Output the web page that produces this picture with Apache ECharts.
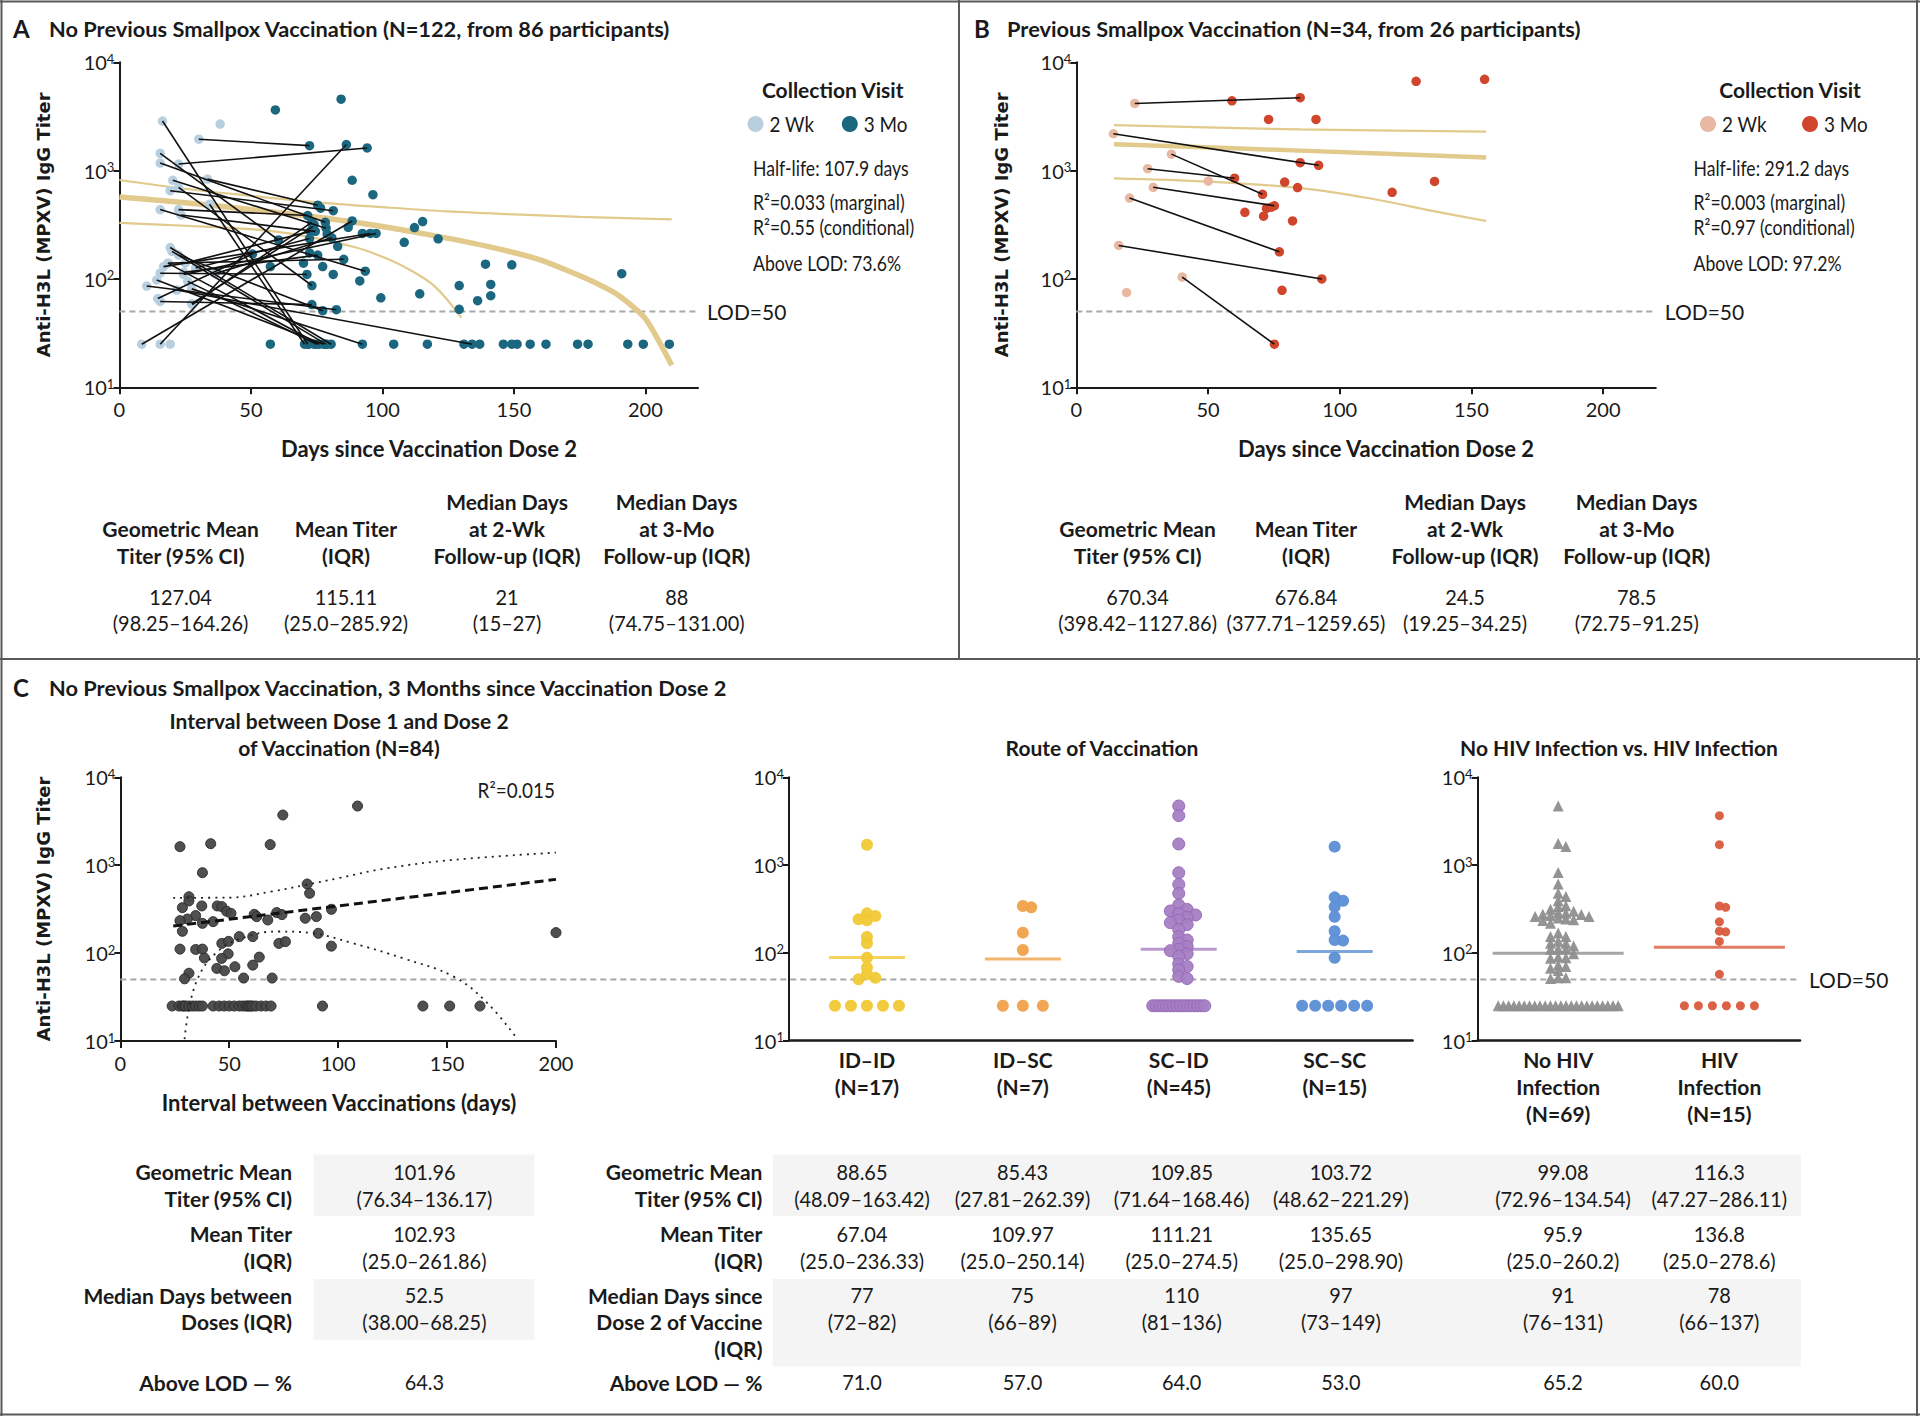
<!DOCTYPE html>
<html>
<head>
<meta charset="utf-8">
<style>
html, body { margin: 0; background: #fff; }
#chart { width: 1920px; height: 1416px; }
</style>
</head>
<body>
<div id="chart"></div>
<script src="https://cdn.jsdelivr.net/npm/echarts@6/dist/echarts.min.js"></script>
<script>
// ---- panel A: no previous smallpox vaccination, [day, titer]
const aPair2wk = [[16.4,2870],[30.2,1950],[22.5,1150],[15.5,1445],[15.5,1175],[20.3,815],[33.5,835],[19.3,653],[22.5,437],[15.5,437],[23.4,390],[34.3,490],[8.5,25],[27.5,59],[15.5,25],[19.3,195],[22.5,166],[18.4,140],[16.8,130],[14.2,98],[10.4,86],[15.5,62],[24.4,110],[21.8,79],[27.5,81],[24.5,115],[18.6,140],[29,126],[36.4,112],[15.5,113],[22.5,700],[20,180],[26,95],[14.6,66],[25,140],[27.7,58]];
const aPair3mo = [[71.6,25],[72.3,1700],[94.2,1620],[60.5,229],[78.3,333],[78.6,294],[75.4,480],[81.3,427],[71.6,385],[93.5,118],[74.5,275],[70.4,25],[88.5,343],[73.6,304],[86.3,1740],[80.5,25],[77.3,51],[76,25],[95.4,263],[77.7,25],[82.5,52],[73.2,58],[97.6,263],[134.1,25],[92.4,25],[75.4,166],[85.3,152],[72.3,236],[80.8,240],[71.3,110],[73.2,87],[78.5,25],[75,25],[50.6,170],[72.6,275],[73.1,333]];
const aOnly2wk = [[38.3,2690],[19.3,25]];
const aOnly3mo = [[59.3,3630],[84.3,4570],[88.5,815],[96.4,600],[92.4,263],[108.3,218],[72.3,174],[77.3,130],[57.4,130],[81.3,110],[91.4,96],[99.4,67],[57.4,25],[104.3,25],[112.2,298],[115.3,339],[121.2,235],[139.2,137],[149.2,135],[191,112],[114.2,73],[129.2,87],[141.2,89],[141.2,70],[136.2,63],[129.2,52.5],[117.1,25],[131,25],[137,25],[146,25],[149.2,25],[151.2,25],[156.2,25],[162.2,25],[174.2,25],[178.2,25],[193.3,25],[199.2,25],[209.1,25],[74,320],[76.5,450],[79,260],[83,200],[70,140],[87,300],[72,25],[74,25],[79,25]];
const aFit = [[0,570],[20,520],[40,465],[60,410],[80,360],[100,305],[120,250],[140,200],[160,150],[180,95],[190,70],[200,43],[210,16]];
const aFitHi = [[0,820],[25,680],[50,585],[75,510],[100,460],[125,420],[150,395],[175,375],[210,355]];
const aFitLo = [[0,330],[25,310],[50,288],[70,250],[90,195],[100,160],[110,123],[120,85],[130,44]];

// ---- panel B: previous smallpox vaccination
const bPair2wk = [[22.2,4170],[14.1,2190],[36.1,1420],[27.1,1042],[29.2,702],[20.2,558],[16.1,204],[40.2,104]];
const bPair3mo = [[85,4710],[92,1120],[70.7,605],[60.1,851],[75.2,474],[77.1,178],[93.2,100],[75.2,25]];
const bOnly2wk = [[50.1,802],[19.1,75]];
const bOnly3mo = [[59.1,4415],[129,6670],[155,6970],[73,2970],[91,2970],[85,1183],[79.1,785],[84,697],[136,794],[119.9,630],[72.2,449],[74,460],[64,412],[71.1,380],[82.1,343],[78.1,78.5]];
const bFit = [[14.3,1750],[85,1530],[155.6,1325]];
const bFitHi = [[14.3,2630],[85,2400],[155.6,2290]];
const bFitLo = [[14.3,849],[50.4,791],[85.9,687],[111.3,556],[136.6,418],[155.6,343]];

// ---- panel C: interval between doses, [days, titer]
const cPoints = [[27.4,1625],[41.5,1757],[68.8,1715],[74.6,3724],[108.9,4710],[37.7,822],[85.8,611],[86.9,479],[31.5,438],[31.5,392],[28.5,329],[37.4,344],[44.5,344],[46.6,338],[48.8,299],[50.8,283],[34.6,267],[30.8,244],[27.4,234],[37.7,218],[42.6,228],[61.5,276],[62.6,260],[67.7,238],[71.8,289],[74.2,274],[84.9,249],[90,260],[96.9,315],[28.5,177],[90.9,168],[200,171],[54.6,154],[60.8,154],[46.6,129],[49.7,136],[72.8,129],[75.8,135],[96.9,120],[27.4,111],[34.6,110],[37.7,111],[38.6,88],[49.5,98],[46.5,87],[63.8,90],[44.3,67],[47.8,63],[52.6,70],[60.8,73],[31.5,59],[29.5,51],[56.6,52],[69.7,52],
  [23.8,25],[26.9,25],[28.5,25],[29.2,25],[30,25],[31.5,25],[33.1,25],[34.6,25],[36.2,25],[37.7,25],[42.6,25],[45.4,25],[47.7,25],[50,25],[52.3,25],[54.6,25],[56.2,25],[57.7,25],[58.5,25],[59.2,25],[60,25],[60.8,25],[62.3,25],[64.6,25],[66.9,25],[69.2,25],[92.8,25],[138.9,25],[151.2,25],[165.1,25]];
const cFit = [[24.3,203],[200,690]];
const cFitHi = [[24.3,425],[50,428],[70,505],[85,596],[100,711],[122,920],[153,1150],[200,1390]];
const cFitLo = [[29.5,10.5],[34.6,45],[45.4,108],[60.8,161],[73,176],[88.5,168],[107,129],[130,87],[153,54],[168.5,27],[182.3,10.5]];

// route of vaccination
const routeCats = ['ID–ID\n(N=17)', 'ID–SC\n(N=7)', 'SC–ID\n(N=45)', 'SC–SC\n(N=15)'];
const routeIdId = [1706,282,263,241,235,152,129,88,68,57,52,50,25,25,25,25,25];
const routeIdSc = [342,330,170,108,25,25,25];
const routeScId = [4710,3660,1740,819,603,476,351,313,300,281,270,255,237,221,210,185,153,140,129,118,110,106,98,91,75,70,64,54,51,25,25,25,25,25,25,25,25,25,25,25,25,25,25,25,25];
const routeScSc = [1622,429,393,336,258,177,140,138,88,25,25,25,25,25,25];
// HIV status
const hivCats = ['No HIV\nInfection\n(N=69)', 'HIV\nInfection\n(N=15)'];
const hivNo = [4710,1757,1625,822,611,479,438,392,344,338,315,299,289,283,276,274,267,260,260,249,244,238,234,218,168,154,154,136,129,129,120,111,111,110,98,90,88,87,73,70,67,63,52,52,51,25,25,25,25,25,25,25,25,25,25,25,25,25,25,25,25,25,25,25,25,25,25,25,25];
const hivYes = [3660,1710,342,330,226,177,174,135,57,25,25,25,25,25,25];

// ---- tables
const tableAHead = [['Geometric Mean','Titer (95% CI)'],['Mean Titer','(IQR)'],['Median Days','at 2-Wk','Follow-up (IQR)'],['Median Days','at 3-Mo','Follow-up (IQR)']];
const tableAVals = [['127.04','(98.25–164.26)'],['115.11','(25.0–285.92)'],['21','(15–27)'],['88','(74.75–131.00)']];
const tableBVals = [['670.34','(398.42–1127.86)'],['676.84','(377.71–1259.65)'],['24.5','(19.25–34.25)'],['78.5','(72.75–91.25)']];
const cLeftLabels = [['Geometric Mean','Titer (95% CI)'],['Mean Titer','(IQR)'],['Median Days between','Doses (IQR)'],['Above LOD — %']];
const cRightLabels = [['Geometric Mean','Titer (95% CI)'],['Mean Titer','(IQR)'],['Median Days since','Dose 2 of Vaccine','(IQR)'],['Above LOD — %']];
const intervalStats = ['101.96','(76.34–136.17)','102.93','(25.0–261.86)','52.5','(38.00–68.25)','64.3'];
const routeStats = [
  ['88.65','(48.09–163.42)','67.04','(25.0–236.33)','77','(72–82)','71.0'],
  ['85.43','(27.81–262.39)','109.97','(25.0–250.14)','75','(66–89)','57.0'],
  ['109.85','(71.64–168.46)','111.21','(25.0–274.5)','110','(81–136)','64.0'],
  ['103.72','(48.62–221.29)','135.65','(25.0–298.90)','97','(73–149)','53.0']];
const hivStats = [
  ['99.08','(72.96–134.54)','95.9','(25.0–260.2)','91','(76–131)','65.2'],
  ['116.3','(47.27–286.11)','136.8','(25.0–278.6)','78','(66–137)','60.0']];

const NAR = 'Lato,"Liberation Sans",sans-serif';
const WIDE = '"DejaVu Sans",sans-serif';
const INK = '#1a1a1a';
const GOLD = '#e2c98c';
const LOD_GRAY = '#a8a8a8';

const grids = [
  {left: 119.4, top: 62.3, width: 578.6, height: 325},
  {left: 1076.3, top: 62.3, width: 579.5, height: 325},
  {left: 120.3, top: 777.3, width: 435.7, height: 263.7},
  {left: 789, top: 777.3, width: 623.6, height: 263.4},
  {left: 1477.6, top: 777.3, width: 322.4, height: 263.4},
  // overlay spanning panel C, only carries the shared LOD line
  {left: 120.3, top: 777.3, width: 1679.7, height: 263.7}
].map(g => Object.assign({outerBoundsMode: 'none', containLabel: false}, g));

function logAxis(gi, hidden) {
  return {
    type: 'log', logBase: 10, gridIndex: gi, min: 10, max: 10000, show: !hidden,
    axisLine: {show: true, lineStyle: {color: INK, width: 2}},
    axisTick: {show: true, length: 6, lineStyle: {color: INK, width: 2}},
    minorTick: {show: false}, splitLine: {show: false},
    axisLabel: {
      margin: 5,
      formatter: v => '{b|10}{s|' + Math.round(Math.log10(v)) + '}',
      rich: {
        b: {fontSize: 20, fontFamily: NAR, color: INK},
        s: {fontSize: 13, fontFamily: NAR, color: INK, verticalAlign: 'top'}
      }
    }
  };
}
function dayAxis(gi, max, ticks) {
  return {
    type: 'value', gridIndex: gi, min: 0, max: max, interval: 50,
    axisLine: {show: true, onZero: false, lineStyle: {color: INK, width: 2}},
    axisTick: {show: true, length: 7, customValues: ticks, lineStyle: {color: INK, width: 2}},
    splitLine: {show: false},
    axisLabel: {margin: 12, customValues: ticks, fontSize: 20, fontFamily: NAR, color: INK}
  };
}
function catAxis(gi, cats) {
  return {
    type: 'category', gridIndex: gi, data: cats,
    axisLine: {show: true, lineStyle: {color: INK, width: 2.5}},
    axisTick: {show: false},
    axisLabel: {margin: 5, interval: 0, fontSize: 21, lineHeight: 27, fontWeight: 'bold', fontFamily: NAR, color: INK}
  };
}

function pairLines(gi, from, to) {
  return {type: 'lines', coordinateSystem: 'cartesian2d', xAxisIndex: gi, yAxisIndex: gi, z: 4, silent: true,
    lineStyle: {color: '#111', width: 1.6, opacity: 1},
    data: from.map((p, i) => ({coords: [p, to[i]]}))};
}
function dots(gi, data, color, size) {
  return {type: 'scatter', xAxisIndex: gi, yAxisIndex: gi, z: 3, symbolSize: size || 9.5, silent: true,
    itemStyle: {color: color, opacity: 1}, data: data};
}
function curve(gi, data, width, extra) {
  return Object.assign({type: 'line', xAxisIndex: gi, yAxisIndex: gi, z: 2, showSymbol: false, silent: true,
    smooth: 0.35, lineStyle: {color: GOLD, width: width}, data: data}, extra || {});
}
function lodLine(gi, xEnd) {
  return {type: 'line', xAxisIndex: gi, yAxisIndex: gi, z: 1, showSymbol: false, silent: true,
    lineStyle: {color: LOD_GRAY, width: 2, type: [6, 4]},
    endLabel: {show: true, formatter: 'LOD=50', distance: 9, color: INK, fontSize: 21, fontFamily: NAR},
    data: [[0, 50], [xEnd, 50]]};
}

// beeswarm offsets (pixels) for dot columns
function swarm(vals, d, rowGap, maxHalf, pxDec) {
  const off = vals.map(() => 0);
  const counts = {};
  vals.forEach(v => { counts[v] = (counts[v] || 0) + 1; });
  const seen = {};
  const placed = [];
  vals.map((v, i) => i).sort((a, b) => vals[b] - vals[a]).forEach(i => {
    const v = vals[i];
    const y = Math.log10(v) * pxDec;
    if (counts[v] > 2) {
      seen[v] = seen[v] === undefined ? 0 : seen[v] + 1;
      const gap = Math.min(rowGap, 2 * maxHalf / (counts[v] - 1));
      off[i] = (seen[v] - (counts[v] - 1) / 2) * gap;
    } else {
      for (let s = 0; s < 80; s++) {
        const dx = (s === 0 ? 0 : (s % 2 ? 1 : -1) * Math.ceil(s / 2)) * d * 0.35;
        if (placed.every(p => Math.abs(p.y - y) >= d * 0.5 || Math.abs(p.dx - dx) >= d * 0.5)) { off[i] = dx; break; }
      }
    }
    placed.push({y: y, dx: off[i]});
  });
  return off;
}
function column(gi, cat, vals, color, size, symbol, rowGap, maxHalf, border) {
  const off = swarm(vals, size, rowGap, maxHalf, 87.8);
  return {type: 'scatter', xAxisIndex: gi, yAxisIndex: gi, z: 3, silent: true, symbol: symbol || 'circle', symbolSize: size,
    itemStyle: {color: color, borderColor: border || color, borderWidth: border ? 1 : 0, opacity: 0.95},
    data: vals.map((v, i) => ({value: [cat, v], symbolOffset: [off[i], 0]}))};
}
function meanBars(gi, stats, colors, w) {
  return {type: 'scatter', xAxisIndex: gi, yAxisIndex: gi, z: 2, silent: true, symbol: 'rect', symbolSize: [w, 3],
    data: stats.map((s, i) => ({value: [i, parseFloat(s[0])], itemStyle: {color: colors[i]}}))};
}

const routeColors = ['#f1c935', '#f0a14a', '#a77fc4', '#5b8ed6'];
const hivColors = ['#8e8e8e', '#d95a3c'];

const series = [
  // A
  curve(0, aFitHi, 2.2), curve(0, aFitLo, 2.2), curve(0, aFit, 5.5, {smooth: 0.2}), lodLine(0, 220),
  dots(0, aPair2wk.concat(aOnly2wk), '#b8cfdf'), dots(0, aPair3mo.concat(aOnly3mo), '#1c6780'),
  pairLines(0, aPair2wk, aPair3mo),
  // B
  curve(1, bFitHi, 2.2), curve(1, bFitLo, 2.2), curve(1, bFit, 4.5), lodLine(1, 220),
  dots(1, bPair2wk.concat(bOnly2wk), '#e8b8a2'), dots(1, bPair3mo.concat(bOnly3mo), '#d0462c'),
  pairLines(1, bPair2wk, bPair3mo),
  // C interval
  {type: 'scatter', xAxisIndex: 2, yAxisIndex: 2, z: 3, silent: true, symbolSize: 10,
    itemStyle: {color: '#474747', borderColor: '#2b2b2b', borderWidth: 1, opacity: 0.95}, data: cPoints},
  {type: 'line', xAxisIndex: 2, yAxisIndex: 2, z: 4, showSymbol: false, silent: true,
    lineStyle: {color: '#111', width: 3, type: [9, 5]}, data: cFit},
  {type: 'line', xAxisIndex: 2, yAxisIndex: 2, z: 4, showSymbol: false, silent: true, smooth: 0.4,
    lineStyle: {color: '#222', width: 1.8, type: [2, 5]}, data: cFitHi},
  {type: 'line', xAxisIndex: 2, yAxisIndex: 2, z: 4, showSymbol: false, silent: true, smooth: 0.4,
    lineStyle: {color: '#222', width: 1.8, type: [2, 5]}, data: cFitLo},
  lodLine(5, 1),
  // C route
  meanBars(3, routeStats, routeColors, 76),
  column(3, 0, routeIdId, routeColors[0], 12, 'circle', 16, 38),
  column(3, 1, routeIdSc, routeColors[1], 12, 'circle', 20, 38),
  column(3, 2, routeScId, routeColors[2], 12, 'circle', 12, 26, '#9568b6'),
  column(3, 3, routeScSc, routeColors[3], 12, 'circle', 13, 38),
  // C HIV
  meanBars(4, hivStats, hivColors, 131),
  column(4, 0, hivNo, hivColors[0], 11, 'triangle', 10, 60),
  column(4, 1, hivYes, hivColors[1], 9, 'circle', 14, 38)
];

// ---- text and frame
function tx(x, y, text, o) {
  o = o || {};
  const font = (o.weight || 'normal') + ' ' + (o.size || 21) + 'px ' + (o.family || NAR);
  return {type: 'text', x: x, y: y, rotation: o.rot || 0, scaleX: o.sx || 1, z: 20, silent: true,
    style: {text: text, fill: o.color || INK, font: font,
      textAlign: o.align || 'left', align: o.align || 'left',
      textVerticalAlign: 'middle', verticalAlign: 'middle'}};
}
function rect(x, y, w, h, fill) {
  return {type: 'rect', z: 0, silent: true, shape: {x: x, y: y, width: w, height: h}, style: {fill: fill}};
}
function hline(x1, x2, y) {
  return {type: 'line', z: 30, silent: true, shape: {x1: x1, y1: y, x2: x2, y2: y}, style: {stroke: '#5a5a5a', lineWidth: 2}};
}
function vline(x, y1, y2) {
  return {type: 'line', z: 30, silent: true, shape: {x1: x, y1: y1, x2: x, y2: y2}, style: {stroke: '#5a5a5a', lineWidth: 2}};
}
function dot(cx, cy, fill) {
  return {type: 'circle', z: 20, silent: true, shape: {cx: cx, cy: cy, r: 8}, style: {fill: fill}};
}

const g = [];
// frame
g.push(hline(0, 1920, 1.5), hline(0, 1920, 1414.5), vline(1.5, 0, 1416), vline(1917, 0, 1416),
  vline(959, 0, 659), hline(0, 1920, 659));

// panel titles
const TS = 21.8;
g.push(tx(13, 28, 'A', {weight: 'bold', size: 24}), tx(49, 28, 'No Previous Smallpox Vaccination (N=122, from 86 participants)', {weight: 'bold', size: TS}));
g.push(tx(974, 28, 'B', {weight: 'bold', size: 24}), tx(1007, 28, 'Previous Smallpox Vaccination (N=34, from 26 participants)', {weight: 'bold', size: TS}));
g.push(tx(13, 687, 'C', {weight: 'bold', size: 24}), tx(49, 687, 'No Previous Smallpox Vaccination, 3 Months since Vaccination Dose 2', {weight: 'bold', size: TS}));

// legends and fit stats
function legendBlock(cx, c1, c2, col1, col2, lx, lines) {
  g.push(tx(cx, 89, 'Collection Visit', {weight: 'bold', align: 'center'}));
  g.push(dot(c1, 124, col1), tx(c1 + 14, 124, '2 Wk', {size: 21, sx: 0.9}), dot(c2, 124, col2), tx(c2 + 14, 124, '3 Mo', {size: 21, sx: 0.9}));
  const ys = [168, 202, 226.5, 263];
  lines.forEach((l, i) => g.push(tx(lx, ys[i], l, {size: 21, sx: 0.84})));
}
legendBlock(832.7, 755.5, 849.8, '#b8cfdf', '#1c6780', 753,
  ['Half-life: 107.9 days', 'R²=0.033 (marginal)', 'R²=0.55 (conditional)', 'Above LOD: 73.6%']);
legendBlock(1790, 1708, 1810, '#e8b8a2', '#d0462c', 1693.5,
  ['Half-life: 291.2 days', 'R²=0.003 (marginal)', 'R²=0.97 (conditional)', 'Above LOD: 97.2%']);

// axis titles
const yTitle = 'Anti-H3L (MPXV) IgG Titer';
[[43, 224.8], [1001.6, 224.8], [43, 909]].forEach(p =>
  g.push(tx(p[0], p[1], yTitle, {weight: 'bold', size: 18, family: WIDE, align: 'center', rot: Math.PI / 2})));
g.push(tx(429, 448, 'Days since Vaccination Dose 2', {weight: 'bold', size: 22, align: 'center'}));
g.push(tx(1386, 448, 'Days since Vaccination Dose 2', {weight: 'bold', size: 22, align: 'center'}));
g.push(tx(339, 1102, 'Interval between Vaccinations (days)', {weight: 'bold', size: 22, align: 'center'}));

// panel C subtitles
g.push(tx(339, 720, 'Interval between Dose 1 and Dose 2', {weight: 'bold', align: 'center'}));
g.push(tx(339, 747, 'of Vaccination (N=84)', {weight: 'bold', align: 'center'}));
g.push(tx(1102, 747, 'Route of Vaccination', {weight: 'bold', align: 'center'}));
g.push(tx(1619, 747, 'No HIV Infection vs. HIV Infection', {weight: 'bold', align: 'center'}));
g.push(tx(555, 790, 'R²=0.015', {align: 'right', size: 21, sx: 0.9}));

// tables A and B
const VSX = 0.95;
function summaryTable(cols, vals) {
  tableAHead.forEach((h, i) => {
    h.forEach((l, k) => g.push(tx(cols[i], 555 - (h.length - 1 - k) * 26.7, l, {weight: 'bold', align: 'center'})));
    g.push(tx(cols[i], 596.7, vals[i][0], {align: 'center', sx: VSX}), tx(cols[i], 622.7, vals[i][1], {align: 'center', sx: VSX}));
  });
}
summaryTable([180.6, 346, 507, 676.7], tableAVals);
summaryTable([1137.6, 1306, 1465, 1636.7], tableBVals);

// table C
g.push(rect(313.5, 1154.4, 221, 61.6, '#f4f4f4'), rect(313.5, 1278.9, 221, 60.8, '#f4f4f4'));
g.push(rect(772.8, 1154.4, 1028, 61.6, '#f4f4f4'), rect(772.8, 1278.9, 1028, 87.6, '#f4f4f4'));
const rowY = [[1171.8, 1198.6], [1233.7, 1260.5], [1295, 1321.7, 1348.4], [1382]];
function rowLabels(xr, labels) {
  labels.forEach((ls, r) => ls.forEach((l, k) => g.push(tx(xr, rowY[r][k], l, {weight: 'bold', align: 'right'}))));
}
rowLabels(292, cLeftLabels);
rowLabels(762.4, cRightLabels);
const valY = [1171.8, 1198.6, 1233.7, 1260.5, 1295, 1321.7, 1382];
function statColumn(cx, stats) { stats.forEach((s, i) => g.push(tx(cx, valY[i], s, {align: 'center', sx: VSX}))); }
statColumn(424.4, intervalStats);
[862, 1022.5, 1181.7, 1340.9].forEach((cx, i) => statColumn(cx, routeStats[i]));
[1563, 1719.3].forEach((cx, i) => statColumn(cx, hivStats[i]));

const chart = echarts.init(document.getElementById('chart'), null, {renderer: 'svg'});
chart.setOption({
  animation: false,
  backgroundColor: '#fff',
  grid: grids,
  xAxis: [dayAxis(0, 220, [0, 50, 100, 150, 200]), dayAxis(1, 220, [0, 50, 100, 150, 200]),
    dayAxis(2, 200, [0, 50, 100, 150, 200]), catAxis(3, routeCats), catAxis(4, hivCats),
    {type: 'value', gridIndex: 5, min: 0, max: 1, show: false}],
  yAxis: [logAxis(0), logAxis(1), logAxis(2), logAxis(3), logAxis(4), logAxis(5, true)],
  series: series,
  graphic: {elements: g}
});
</script>
</body>
</html>
